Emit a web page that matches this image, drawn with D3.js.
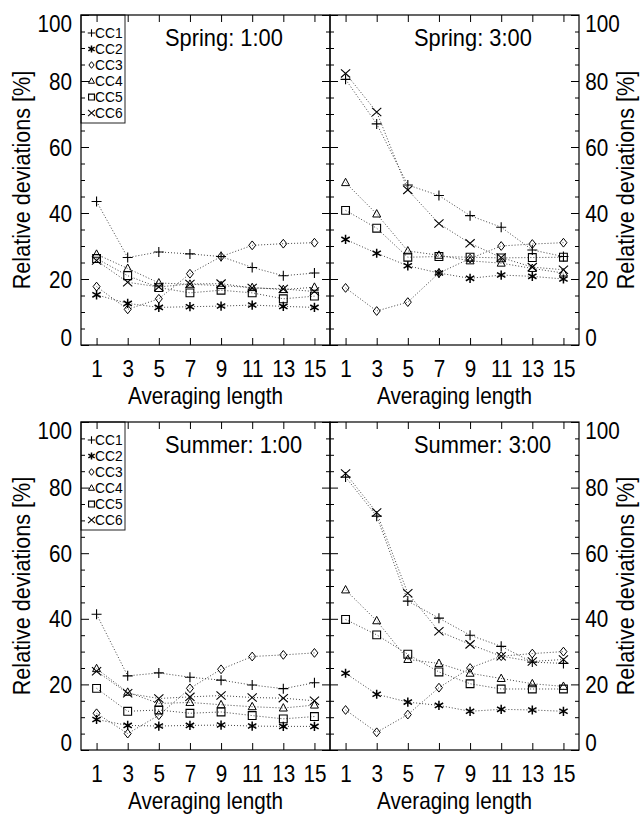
<!DOCTYPE html>
<html>
<head>
<meta charset="utf-8">
<script src="https://cdn.jsdelivr.net/npm/d3@7"></script>
<style>
  html, body { margin: 0; padding: 0; background: #fff; }
  svg { display: block; }
  text { font-family: "Liberation Sans", Arial, Helvetica, sans-serif; fill: #000; }
</style>
</head>
<body>
<svg id="chart" width="640" height="817"></svg>
<script>
// Averaging lengths on the x axis
const averagingLengths = [1, 3, 5, 7, 9, 11, 13, 15];
const seriesNames = ["CC1", "CC2", "CC3", "CC4", "CC5", "CC6"];
const yMajorTicks = [0, 20, 40, 60, 80, 100];
const yMinorTicks = [5, 10, 15, 25, 30, 35, 45, 50, 55, 65, 70, 75, 85, 90, 95];

// Relative deviations [%], one row per series (CC1..CC6)
const spring0100 = [
  [43.5, 26.5, 28.2, 27.6, 26.8, 23.5, 21.0, 21.8],
  [15.2, 12.6, 11.4, 11.6, 11.8, 12.1, 11.7, 11.4],
  [17.7, 10.8, 14.0, 21.6, 26.8, 30.2, 30.7, 31.0],
  [27.5, 23.2, 18.8, 18.4, 18.0, 17.4, 16.8, 17.5],
  [26.2, 21.0, 17.4, 15.8, 16.6, 15.8, 14.0, 14.8],
  [25.6, 19.0, 17.6, 18.5, 18.6, 17.3, 17.0, 16.2]
];
const spring0300 = [
  [80.5, 67.0, 48.5, 45.3, 39.2, 35.7, 28.8, 26.8],
  [32.0, 27.8, 24.0, 21.8, 20.2, 21.2, 20.8, 20.0],
  [17.3, 10.3, 13.0, 21.8, 26.2, 30.0, 30.6, 31.0],
  [49.2, 39.7, 28.5, 27.2, 25.5, 24.8, 23.2, 21.8],
  [40.8, 35.4, 26.6, 26.8, 26.6, 26.4, 26.5, 26.6],
  [82.3, 70.6, 47.0, 36.8, 30.8, 26.5, 23.6, 22.8]
];
const summer0100 = [
  [41.4, 22.6, 23.5, 22.2, 21.3, 19.8, 18.7, 20.5],
  [9.3, 7.5, 7.3, 7.5, 7.6, 7.3, 7.2, 7.2],
  [11.2, 5.0, 10.6, 18.8, 24.6, 28.5, 29.0, 29.6],
  [24.8, 17.6, 14.2, 14.5, 13.8, 13.2, 12.8, 13.7],
  [18.8, 11.8, 12.2, 11.2, 11.6, 10.5, 9.5, 10.2],
  [24.0, 17.3, 15.7, 16.2, 16.6, 16.0, 15.8, 15.0]
];
const summer0300 = [
  [83.2, 71.3, 45.4, 40.2, 35.0, 31.6, 26.8, 26.4],
  [23.4, 17.0, 14.6, 13.6, 11.8, 12.4, 12.2, 11.8],
  [12.2, 5.4, 10.8, 19.0, 25.0, 28.6, 29.4, 30.0],
  [48.8, 39.4, 27.6, 26.4, 23.4, 21.8, 20.2, 19.4],
  [39.8, 35.1, 29.2, 23.8, 20.2, 18.6, 18.6, 18.6],
  [84.3, 72.4, 47.8, 36.2, 32.2, 28.6, 27.0, 27.6]
];

// Marker outlines, one per series
const markerPaths = [
  s => `M${-5*s},0H${5*s}M0,${-5*s}V${5*s}`,
  s => `M0,${-4.6*s}V${4.6*s}M${-4.2*s},${-2.4*s}L${4.2*s},${2.4*s}M${-4.2*s},${2.4*s}L${4.2*s},${-2.4*s}`,
  s => `M0,${-4.4*s}L${3.5*s},0L0,${4.4*s}L${-3.5*s},0Z`,
  s => `M0,${-4.4*s}L${4*s},${3*s}L${-4*s},${3*s}Z`,
  s => `M${-3.9*s},${-3.9*s}H${3.9*s}V${3.9*s}H${-3.9*s}Z`,
  s => `M${-4.6*s},${-4.1*s}L${4.6*s},${4.1*s}M${-4.6*s},${4.1*s}L${4.6*s},${-4.1*s}`
];
const markerStroke = [1.1, 1.5, 1, 1, 1.1, 1.1];

const panels = [
  { rows: spring0100, title: "Spring: 1:00", left: 81, top: 15, height: 330, side: "left" },
  { rows: spring0300, title: "Spring: 3:00", left: 330, top: 15, height: 330, side: "right" },
  { rows: summer0100, title: "Summer: 1:00", left: 81, top: 422, height: 328, side: "left" },
  { rows: summer0300, title: "Summer: 3:00", left: 330, top: 422, height: 328, side: "right" }
];
const panelWidth = 249;
const squeeze = 0.9;

const svg = d3.select("#chart");

function styleAxis(g) {
  g.select(".domain").remove();
  g.attr("font-family", null).attr("font-size", null);
  g.selectAll(".tick line").attr("stroke", "#000").attr("stroke-width", 1);
  g.selectAll("text").attr("fill", "#000").style("font-size", "23px")
    .attr("transform", `scale(${squeeze},1)`);
}

panels.forEach(p => {
  const g = svg.append("g");
  const x = d3.scaleLinear().domain([0, 16]).range([p.left, p.left + panelWidth]);
  const y = d3.scaleLinear().domain([0, 100]).range([p.top + p.height, p.top]);

  // legend box (left-hand panels)
  if (p.side === "left") {
    const lg = g.append("g");
    lg.append("rect")
      .attr("x", p.left).attr("y", p.top)
      .attr("width", 44).attr("height", 108)
      .attr("fill", "#fff").attr("stroke", "#222").attr("stroke-width", 1);
    seriesNames.forEach((name, i) => {
      const cy = p.top + 18 + 16 * i;
      lg.append("path")
        .attr("d", markerPaths[i](0.75))
        .attr("transform", `translate(${p.left + 10.5},${cy})`)
        .attr("fill", "none").attr("stroke", "#000").attr("stroke-width", markerStroke[i]);
      lg.append("text")
        .attr("transform", `translate(${p.left + 14},${cy}) scale(0.92,1)`)
        .attr("dy", "0.36em")
        .style("font-size", "15px")
        .text(name);
    });
  }

  // x axis ticks (bottom with labels, top plain)
  g.append("g")
    .attr("transform", `translate(0,${p.top + p.height})`)
    .call(d3.axisBottom(x).tickValues(averagingLengths).tickSize(-7).tickPadding(16))
    .call(styleAxis);
  g.append("g")
    .attr("transform", `translate(0,${p.top})`)
    .call(d3.axisTop(x).tickValues(averagingLengths).tickSize(-7).tickFormat(""))
    .call(styleAxis);

  // y axis ticks, majors and minors on both sides
  const labelLeft = p.side === "left";
  const leftMajor = d3.axisLeft(y).tickValues(yMajorTicks).tickSize(-8).tickPadding(10);
  const rightMajor = d3.axisRight(y).tickValues(yMajorTicks).tickSize(-8).tickPadding(7);
  if (labelLeft) rightMajor.tickFormat(""); else leftMajor.tickFormat("");
  const gl = g.append("g").attr("transform", `translate(${p.left},0)`).call(leftMajor).call(styleAxis);
  const gr = g.append("g").attr("transform", `translate(${p.left + panelWidth},0)`).call(rightMajor).call(styleAxis);
  g.append("g").attr("transform", `translate(${p.left},0)`)
    .call(d3.axisLeft(y).tickValues(yMinorTicks).tickSize(-4).tickFormat("")).call(styleAxis);
  g.append("g").attr("transform", `translate(${p.left + panelWidth},0)`)
    .call(d3.axisRight(y).tickValues(yMinorTicks).tickSize(-4).tickFormat("")).call(styleAxis);
  // end labels sit inside the axis range
  [gl, gr].forEach(ax => {
    ax.selectAll(".tick text").attr("dy", d => d === 0 ? "0em" : d === 100 ? "0.72em" : "0.35em");
  });

  // frame
  g.append("rect")
    .attr("x", p.left).attr("y", p.top)
    .attr("width", panelWidth).attr("height", p.height)
    .attr("fill", "none").attr("stroke", "#000").attr("stroke-width", 1.2);

  // dotted series lines and markers
  const line = d3.line().x((d, j) => x(averagingLengths[j])).y(d => y(d));
  p.rows.forEach((row, i) => {
    g.append("path")
      .attr("d", line(row))
      .attr("fill", "none").attr("stroke", "#444").attr("stroke-width", 1)
      .attr("stroke-dasharray", "1,2");
  });
  p.rows.forEach((row, i) => {
    g.selectAll(null).data(row).enter().append("path")
      .attr("d", markerPaths[i](1))
      .attr("transform", (d, j) => `translate(${x(averagingLengths[j])},${y(d)})`)
      .attr("fill", "none").attr("stroke", "#000").attr("stroke-width", markerStroke[i]);
  });

  // panel title
  g.append("text")
    .attr("transform", `translate(${p.left + 84},${p.top + 31}) scale(0.95,1)`)
    .style("font-size", "23px")
    .text(p.title);

  // x axis title
  g.append("text")
    .attr("transform", `translate(${p.left + panelWidth / 2},${p.top + p.height + 59}) scale(${squeeze},1)`)
    .attr("text-anchor", "middle")
    .style("font-size", "23px")
    .text("Averaging length");

  // y axis title
  const ty = p.top + p.height / 2;
  const tx = labelLeft ? 30 : 634;
  g.append("text")
    .attr("transform", `translate(${tx},${ty}) rotate(-90) scale(${squeeze},1)`)
    .attr("text-anchor", "middle")
    .style("font-size", "24px")
    .text("Relative deviations [%]");
});
</script>
</body>
</html>
